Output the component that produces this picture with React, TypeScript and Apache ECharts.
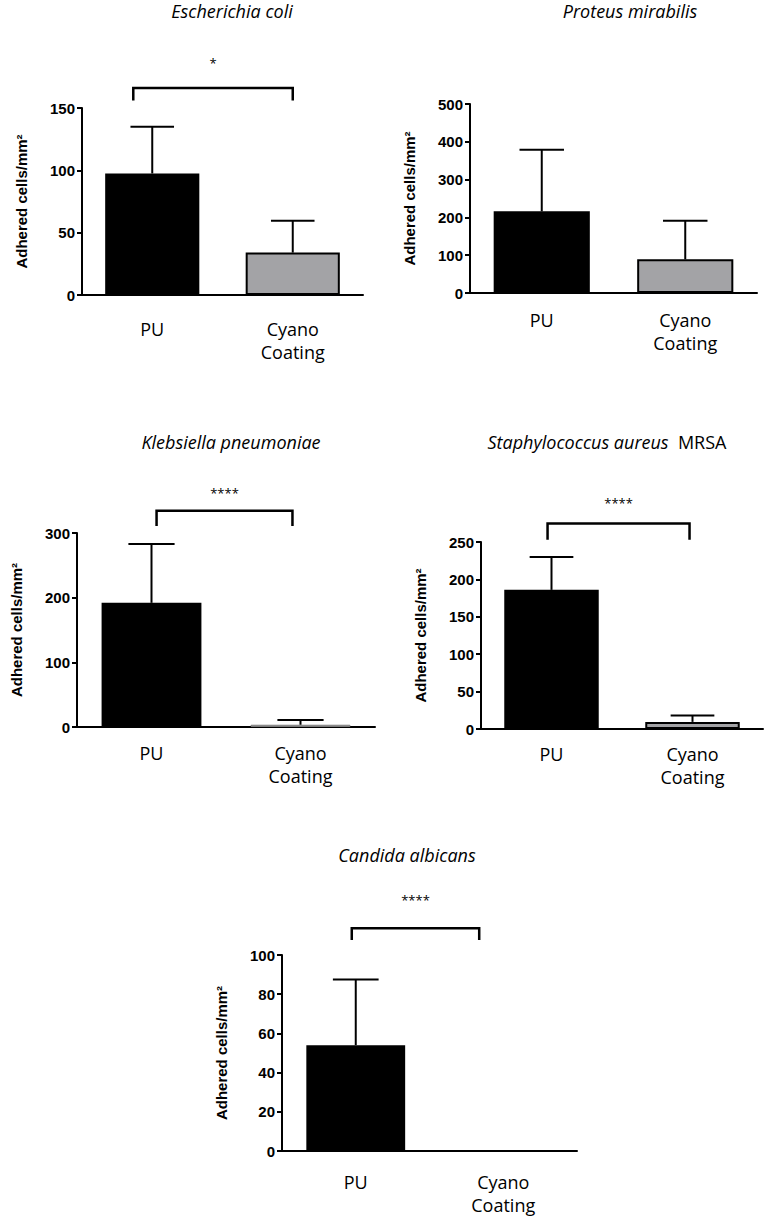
import React, { useEffect, useRef } from "react";
import * as echarts from "echarts";

// ---------- data ----------
const categories = ["PU", "Cyano\nCoating"];

const ecoliMean = [97.5, 34];
const ecoliErr = [37.5, 25.5];

const proteusMean = [216, 89];
const proteusErr = [163, 102];

const klebsiellaMean = [192, 3.5];
const klebsiellaErr = [91, 7.5];

const staphMean = [186, 9.5];
const staphErr = [44, 8.5];

const candidaMean = [54, 0];
const candidaErr = [33.5, 0];

const yMaxes = [150, 500, 300, 250, 100];
const yIntervals = [50, 100, 100, 50, 20];
const significance = ["*", "", "****", "****", "****"];

const panelTitles = [
  "{i|Escherichia coli}",
  "{i|Proteus mirabilis}",
  "{i|Klebsiella pneumoniae}",
  "{i|Staphylococcus aureus}{n|  MRSA}",
  "{i|Candida albicans}",
];
const yName = "Adhered cells/mm²";

const means = [ecoliMean, proteusMean, klebsiellaMean, staphMean, candidaMean];
const errs = [ecoliErr, proteusErr, klebsiellaErr, staphErr, candidaErr];

// ---------- layout / style ----------
const layouts: any[] = [
  { left: 82, top: 108, width: 281, height: 187, labelMargin: 22, titleX: 232, titleY: 11,
    br: { top: 166, end: 156, star: 186, l: -0.135, r: 0 } },
  { left: 470, top: 104, width: 287, height: 189, labelMargin: 15, titleX: 630, titleY: 11, br: null },
  { left: 77, top: 533, width: 298, height: 194, labelMargin: 14, titleX: 231, titleY: 442,
    br: { top: 334.5, end: 311, star: 362, l: 0.034, r: -0.054 } },
  { left: 481, top: 542, width: 282, height: 187, labelMargin: 13, titleX: 607, titleY: 442,
    br: { top: 274.6, end: 253, star: 302, l: -0.028, r: -0.021 } },
  { left: 282, top: 955, width: 295, height: 196, labelMargin: 19, titleX: 407, titleY: 855,
    br: { top: 113.6, end: 107.7, star: 128, l: -0.027, r: -0.163 } },
];

const barColors = ["#000000", "#a3a3a6"];
const SANS = '"Liberation Sans", Arial, sans-serif';
const LABEL = '"Open Sans", sans-serif';

function buildOption() {
  const grid: any[] = [];
  const xAxis: any[] = [];
  const yAxis: any[] = [];
  const series: any[] = [];
  const graphic: any[] = [];

  layouts.forEach((L, i) => {
    grid.push({ left: L.left, top: L.top, width: L.width, height: L.height, containLabel: false });
    xAxis.push({
      type: "category",
      gridIndex: i,
      data: categories,
      axisLine: { lineStyle: { color: "#000", width: 2 } },
      axisTick: { alignWithLabel: true, length: 5, lineStyle: { color: "#000", width: 2 } },
      axisLabel: {
        interval: 0,
        margin: L.labelMargin,
        color: "#000",
        fontFamily: LABEL,
        fontSize: 18,
        lineHeight: 23,
      },
    });
    yAxis.push({
      type: "value",
      gridIndex: i,
      min: 0,
      max: yMaxes[i],
      interval: yIntervals[i],
      splitLine: { show: false },
      axisLine: { show: true, lineStyle: { color: "#000", width: 2 } },
      axisTick: { show: true, length: 5, lineStyle: { color: "#000", width: 2 } },
      axisLabel: { color: "#000", fontFamily: SANS, fontWeight: "bold", fontSize: 15, margin: 7 },
      name: yName,
      nameLocation: "middle",
      nameGap: 53,
      nameTextStyle: { color: "#000", fontFamily: SANS, fontWeight: "bold", fontSize: 15 },
    });

    series.push({
      type: "bar",
      xAxisIndex: i,
      yAxisIndex: i,
      barWidth: "67%",
      z: 2,
      data: means[i].map((v, j) => {
        const tiny = i === 2 && j === 1;
        return {
          value: v,
          itemStyle: {
            color: barColors[j],
            borderColor: tiny ? "#7a7a7a" : "#000",
            borderWidth: tiny ? 1 : 2,
          },
        };
      }),
    });

    series.push({
      type: "custom",
      xAxisIndex: i,
      yAxisIndex: i,
      z: 3,
      clip: false,
      data: means[i].map((v, j) => [j, v, errs[i][j]]),
      renderItem: (params: any, api: any) => {
        const x = api.value(0);
        const m = api.value(1);
        const e = api.value(2);
        if (!(e > 0)) return null;
        const base = api.coord([x, m]);
        const top = api.coord([x, m + e]);
        const hw = api.size([1, 0])[0] * 0.155;
        const st = { stroke: "#000", lineWidth: 2 };
        return {
          type: "group",
          children: [
            { type: "line", shape: { x1: base[0], y1: base[1], x2: top[0], y2: top[1] }, style: st },
            { type: "line", shape: { x1: top[0] - hw, y1: top[1], x2: top[0] + hw, y2: top[1] }, style: st },
          ],
        };
      },
    });

    if (L.br && significance[i]) {
      const br = L.br;
      const sig = significance[i];
      series.push({
        type: "custom",
        xAxisIndex: i,
        yAxisIndex: i,
        z: 4,
        clip: false,
        data: [[0, br.top, br.end, br.star]],
        renderItem: (params: any, api: any) => {
          const band = api.size([1, 0])[0];
          const pl = api.coord([0, api.value(1)]);
          const pr = api.coord([1, api.value(1)]);
          const yEnd = api.coord([0, api.value(2)])[1];
          const yStar = api.coord([0, api.value(3)])[1];
          const x1 = pl[0] + br.l * band;
          const x2 = pr[0] + br.r * band;
          return {
            type: "group",
            children: [
              {
                type: "polyline",
                shape: { points: [[x1, yEnd], [x1, pl[1]], [x2, pl[1]], [x2, yEnd]] },
                style: { stroke: "#000", lineWidth: 2.5, fill: null },
              },
              {
                type: "text",
                x: (x1 + x2) / 2,
                y: yStar,
                style: {
                  text: sig,
                  align: "center",
                  verticalAlign: "middle",
                  font: '13px "Open Sans", sans-serif',
                  fill: "#000",
                },
              },
            ],
          };
        },
      });
    }

    graphic.push({
      type: "text",
      x: L.titleX,
      y: L.titleY,
      style: {
        text: panelTitles[i],
        align: "center",
        verticalAlign: "middle",
        fill: "#000",
        rich: {
          i: { fontFamily: LABEL, fontStyle: "italic", fontSize: 18, fill: "#000" },
          n: { fontFamily: LABEL, fontSize: 18, fill: "#000" },
        },
      },
    });
  });

  return {
    animation: false,
    backgroundColor: "#ffffff",
    grid,
    xAxis,
    yAxis,
    series,
    graphic,
  };
}

export default function App() {
  const ref = useRef<HTMLDivElement>(null);
  useEffect(() => {
    if (!ref.current) return;
    const chart = echarts.init(ref.current, null, { renderer: "svg" });
    chart.setOption(buildOption() as any);
    return () => chart.dispose();
  }, []);
  return (
    <div
      ref={ref}
      style={{ position: "absolute", left: 0, top: 0, width: 769, height: 1217, background: "#fff" }}
    />
  );
}
